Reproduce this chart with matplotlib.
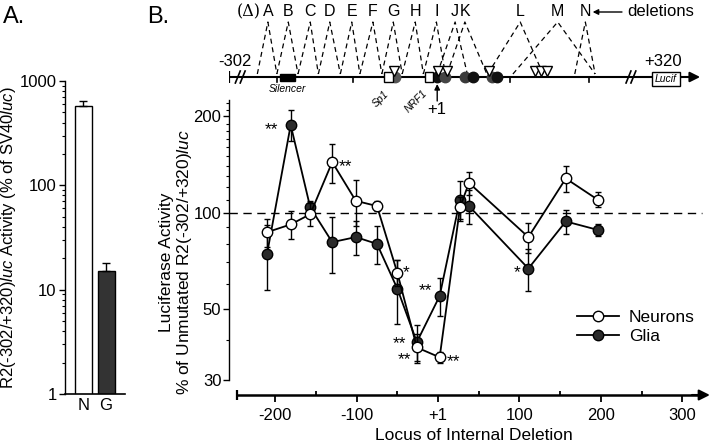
import matplotlib
matplotlib.use('Agg')
import matplotlib.pyplot as plt
from matplotlib.patches import Rectangle
from matplotlib.lines import Line2D
from matplotlib.ticker import FixedLocator, FixedFormatter, NullFormatter, LogLocator

plt.rcParams['font.family'] = ['Liberation Sans', 'DejaVu Sans']
plt.rcParams['mathtext.fontset'] = 'custom'
plt.rcParams['mathtext.rm'] = 'Liberation Sans'
plt.rcParams['mathtext.it'] = 'Liberation Sans:italic'

# ---------------- data ----------------
# Panel A
cells = ['N', 'G']
activity = [578, 15.2]
activity_err = [67, 2.9]
bar_colors = ['white', '#333333']

# Panel B
deletions = list('ABCDEFGHIJKLMN')
locus = [-210, -181, -157, -130, -101, -75, -50, -26, 2, 27, 38, 111, 157, 196]
neurons = [87, 92, 99, 144, 109, 105, 65, 38, 35.4, 104, 124, 84, 128, 110]
neurons_err = [9, 9, 8, 20, 18, 4, 6, 4, 1.5, 8, 10, 9, 12, 6]
glia = [74.6, 188, 104, 81, 84, 80, 58, 39.5, 55, 110, 105, 67, 94, 88.5]
glia_err = [17, 21, 5, 16, 10, 11, 13, 5, 7.5, 16, 13, 10, 8, 4]
x_ticks = [-200, -100, 0, 100, 200, 300]
x_ticklabels = ['-200', '-100', '+1', '100', '200', '300']
y_ticks = [30, 50, 100, 200]

# significance marks: (index, series, text, dx pt, dy pt, ha)
stars = [(1, 'g', '**', -9, -3, 'right'),
         (3, 'n', '**', 5, -3, 'left'),
         (6, 'n', '*', 4, 0, 'left'),
         (8, 'g', '**', -5, 4, 'right'),
         (7, 'g', '**', -8, -1, 'right'),
         (7, 'n', '**', -4, -9, 'right'),
         (8, 'n', '**', 5, -3, 'left'),
         (11, 'g', '*', -6, -3, 'right')]

# promoter schematic (bp)
letter_pos = [-209, -184, -157, -133, -106, -80, -55, -28, -2, 21, 33, 101, 147, 181]
del_left = [-222, -198, -172, -147, -120, -96, -69, -44, -18, -1, 11, 61, 92, 168]
del_right = [-198, -172, -147, -120, -96, -69, -44, -18, 9, 36, 60, 129, 193, 193]
scale_ticks = [-198, -104, 88, 186]
circle_pos = [-53, -1, 9, 33, 43, 66, 72]
circle_col = ['#555555', '#111111', '#444444', '#3a3a3a', '#111111', '#444444', '#111111']
triangle_pos = [-54, 0, 11, 63, 119, 127, 134]

W, H = 720, 445


def rect(l, t, r, b):
    return [l / W, 1 - b / H, (r - l) / W, (b - t) / H]


fig = plt.figure(figsize=(7.2, 4.45), dpi=100)

# ---------------- Panel A ----------------
axA = fig.add_axes(rect(65, 81, 125, 394))
axA.bar([0, 1], activity, width=0.75, color=bar_colors, edgecolor='k', linewidth=1,
        yerr=[[0, 0], activity_err], capsize=3, error_kw=dict(elinewidth=1, capthick=1))
axA.set_yscale('log')
axA.set_ylim(1, 1000)
axA.set_xlim(-0.82, 1.84)
axA.set_xticks([0, 1])
axA.set_xticklabels(cells, fontsize=12)
axA.tick_params(axis='x', length=0, pad=3)
axA.yaxis.set_major_locator(FixedLocator([1, 10, 100, 1000]))
axA.yaxis.set_major_formatter(FixedFormatter(['1', '10', '100', '1000']))
axA.yaxis.set_minor_locator(LogLocator(base=10, subs=range(2, 10)))
axA.yaxis.set_minor_formatter(NullFormatter())
axA.tick_params(axis='y', which='major', length=4, width=1, labelsize=12, pad=2)
axA.tick_params(axis='y', which='minor', length=2, width=0.8)
for s in ['top', 'right']:
    axA.spines[s].set_visible(False)
axA.spines['left'].set_linewidth(1)
axA.spines['bottom'].set_linewidth(1.2)
fig.text(9 / W, 1 - 238 / H, r'R2(-302/+320)$\it{luc}$ Activity (% of SV40$\it{luc}$)',
         rotation=90, ha='center', va='center', fontsize=12)

fig.text(3 / W, 1 - 17 / H, 'A.', fontsize=17, ha='left', va='center')
fig.text(147 / W, 1 - 17 / H, 'B.', fontsize=17, ha='left', va='center')

# ---------------- Panel B ----------------
xlim = (-256.8, 336.6)
ax = fig.add_axes(rect(229, 100, 712, 395))
ax.set_yscale('log')
ax.set_ylim(27.0, 225)
ax.set_xlim(*xlim)
ax.hlines(100, xlim[0], 324, colors='k', linestyles=(0, (6, 4)), linewidth=1)

ax.errorbar(locus, glia, yerr=glia_err, fmt='-o', color='k', mfc='#2b2b2b', mec='k',
            ms=7.5, lw=1.3, elinewidth=1, capsize=2.5, capthick=1, zorder=3)
ax.errorbar(locus, neurons, yerr=neurons_err, fmt='-o', color='k', mfc='white', mec='k',
            ms=7.5, lw=1.3, elinewidth=1, capsize=2.5, capthick=1, zorder=4)

for idx, ser, txt, dx, dy, ha in stars:
    yv = glia[idx] if ser == 'g' else neurons[idx]
    ax.annotate(txt, xy=(locus[idx], yv), xytext=(dx, dy), textcoords='offset points',
                ha=ha, va='center', fontsize=12.5, zorder=5)

ax.xaxis.set_major_locator(FixedLocator(x_ticks))
ax.xaxis.set_major_formatter(FixedFormatter(x_ticklabels))
ax.xaxis.set_minor_locator(FixedLocator([-150, -50, 50, 150, 250]))
ax.tick_params(axis='x', which='major', direction='out', length=5, width=1.3, labelsize=12, pad=4)
ax.tick_params(axis='x', which='minor', direction='in', length=3, width=1.3)
ax.yaxis.set_major_locator(FixedLocator(y_ticks))
ax.yaxis.set_major_formatter(FixedFormatter([str(v) for v in y_ticks]))
ax.yaxis.set_minor_locator(FixedLocator([40, 60, 70, 80, 90, 110, 120, 130, 140, 150,
                                         160, 170, 180, 190, 210, 220]))
ax.yaxis.set_minor_formatter(NullFormatter())
ax.tick_params(axis='y', which='major', length=4, width=1, labelsize=12, pad=1.5)
ax.tick_params(axis='y', which='minor', length=2.2, width=0.8)
for s in ['top', 'right']:
    ax.spines[s].set_visible(False)
ax.spines['left'].set_bounds(30, 225)
ax.spines['left'].set_linewidth(1)
ax.spines['bottom'].set_bounds(-247, 322)
ax.spines['bottom'].set_linewidth(1.8)
ax.annotate('', xy=(334, 27.0), xytext=(312, 27.0),
            arrowprops=dict(arrowstyle='-|>', color='k', lw=1.5, mutation_scale=16,
                            shrinkA=0, shrinkB=0), annotation_clip=False)
ax.plot([-247], [27.0], marker='|', ms=7, mew=1.6, color='k', clip_on=False)

handles = [Line2D([], [], color='k', marker='o', mfc='white', mec='k', ms=7.5, lw=1.3),
           Line2D([], [], color='k', marker='o', mfc='#2b2b2b', mec='k', ms=7.5, lw=1.3)]
fig.legend(handles, ['Neurons', 'Glia'], loc='upper left', bbox_to_anchor=(577 / W, 1 - 310 / H),
           frameon=False, fontsize=12.5, handlelength=2.4, handletextpad=0.6,
           labelspacing=0.2, borderpad=0, borderaxespad=0)

fig.text(474 / W, 1 - 436 / H, 'Locus of Internal Deletion', ha='center', va='center', fontsize=12.5)
fig.text(166 / W, 1 - 262 / H, 'Luciferase Activity', rotation=90, ha='center', va='center', fontsize=12.5)
fig.text(184 / W, 1 - 262 / H, r'% of Unmutated R2(-302/+320)$\it{luc}$', rotation=90,
         ha='center', va='center', fontsize=12.5)

# ---------------- promoter schematic ----------------
sch = fig.add_axes(rect(229, 0, 712, 120))
sch.set_xlim(*xlim)
sch.set_ylim(120, 0)
sch.axis('off')

sch.plot([xlim[0], 300], [77, 77], color='k', lw=1.5, solid_capstyle='butt')
sch.annotate('', xy=(322, 77), xytext=(296, 77),
             arrowprops=dict(arrowstyle='-|>', color='k', lw=1.5, mutation_scale=15,
                             shrinkA=0, shrinkB=0))
sch.plot([xlim[0]], [77], marker='|', ms=8, mew=1.6, color='k')
for bx in [-246, -240, 234, 240]:
    sch.plot([bx - 3, bx + 3], [83, 71], color='k', lw=1.2)
for tx in scale_ticks:
    sch.plot([tx, tx], [77, 82], color='k', lw=1.2)
sch.text(-250, 61, '-302', ha='center', va='center', fontsize=12)
sch.text(277, 61, '+320', ha='center', va='center', fontsize=12)
sch.add_patch(Rectangle((263, 72), 34, 14, facecolor='white', edgecolor='k', lw=1, zorder=3))
sch.text(280, 79.5, 'Lucif', style='italic', fontsize=7.5, ha='center', va='center', zorder=4)

sch.add_patch(Rectangle((-194, 73.5), 18, 7.5, facecolor='k', edgecolor='k', zorder=3))
sch.text(-185, 89, 'Silencer', style='italic', fontsize=7.5, ha='center', va='center')

for cx, cc in zip(circle_pos, circle_col):
    sch.plot([cx], [77], marker='o', ms=7.5, color=cc, mec=cc, zorder=3)
sch.add_patch(Rectangle((-66, 72), 11, 10, facecolor='white', edgecolor='k', lw=1, zorder=4))
sch.add_patch(Rectangle((-16, 72), 10, 10, facecolor='white', edgecolor='k', lw=1, zorder=4))
for tx in triangle_pos:
    sch.plot([tx], [71], marker='v', ms=7.5, mfc='white', mec='k', mew=1, zorder=5)
sch.text(-71, 99, 'Sp1', style='italic', fontsize=7.5, rotation=45, ha='center', va='center')
sch.text(-27, 101, 'NRF1', style='italic', fontsize=7.5, rotation=45, ha='center', va='center')
sch.annotate('', xy=(-1, 84), xytext=(-1, 101),
             arrowprops=dict(arrowstyle='-|>', color='k', lw=1, mutation_scale=8,
                             shrinkA=0, shrinkB=0))
sch.text(-1, 110, '+1', ha='center', va='center', fontsize=12)

for lx, dl, dr, name in zip(letter_pos, del_left, del_right, deletions):
    sch.text(lx, 12, name, ha='center', va='center', fontsize=11.5)
    sch.plot([dl, lx, dr], [74, 22, 74], color='k', lw=0.9, ls=(0, (4, 3)))
sch.text(-232, 12, '(Δ)', ha='center', va='center', fontsize=11.5, family='DejaVu Serif')
sch.annotate('', xy=(190, 12), xytext=(226, 12),
             arrowprops=dict(arrowstyle='-|>', color='k', lw=1, mutation_scale=8,
                             shrinkA=0, shrinkB=0))
sch.text(232, 12, 'deletions', ha='left', va='center', fontsize=12)

fig.savefig('out.png', dpi=100)
